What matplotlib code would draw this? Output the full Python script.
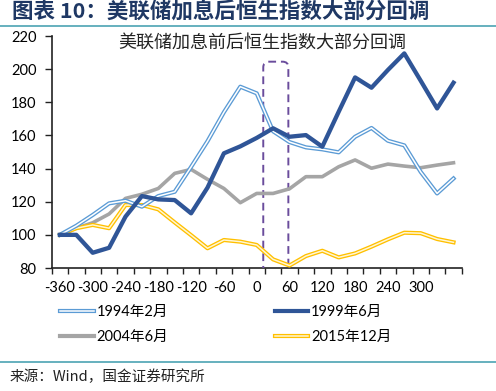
import numpy as np
import matplotlib
matplotlib.use("Agg")
import matplotlib.pyplot as plt
from matplotlib.lines import Line2D
from matplotlib.patches import FancyBboxPatch

plt.rcParams['font.family'] = ['Lato', 'Noto Sans CJK SC', 'DejaVu Sans']

days = [-360, -330, -300, -270, -240, -210, -180, -150, -120, -90, -60, -30, 0,
        30, 60, 90, 120, 150, 180, 210, 240, 270, 300, 330, 360]
tick_labels = ['-360', '', '-300', '', '-240', '', '-180', '', '-120', '', '-60', '', '0',
               '', '60', '', '120', '', '180', '', '240', '', '300', '', '']

s1994 = [100, 105.5, 112, 119, 120.6, 117, 123.4, 126, 141, 156.5, 174, 189.4, 185.4,
         162.5, 156, 152.8, 151.6, 149.8, 159.2, 164.5, 156.8, 154, 138, 125, 134]
s1999 = [100, 100, 89.2, 92.2, 111, 123.4, 121.4, 121, 113, 128.5, 149.2, 153.4, 158.5,
         164.3, 159.2, 160.2, 153.2, 174.3, 195, 188.8, 199.5, 209.5, 193, 176.3, 191.8]
s2004 = [100, 104, 107.3, 112.6, 122, 124.5, 128, 137.1, 139.5, 133.5, 128, 119.4, 125,
         125, 127.8, 135.1, 135.1, 141.1, 145.2, 140.2, 142.7, 141.5, 140.5, 142.1, 143.5]
s2015 = [100, 104, 106, 104, 118, 118, 115.4, 107.5, 99.8, 91.9, 96.9, 95.9, 93.9,
         85.2, 81.5, 87.2, 90.4, 86.4, 88.8, 92.9, 97.3, 101.3, 101, 97.5, 95.5]

names = ['1994年2月', '1999年6月', '2004年6月', '2015年12月']
inner_title = '美联储加息前后恒生指数大部分回调'
header = '图表 10：美联储加息后恒生指数大部分回调'
source = '来源：Wind，国金证券研究所'

W, H = 496, 391
fig = plt.figure(figsize=(W / 100, H / 100), dpi=100)
ax = fig.add_axes([51.7 / W, 1 - 268 / H, (461.7 - 51.7) / W, (268 - 36) / H])

x = np.arange(len(days))
c_lb = '#5B9BD5'
c_db = '#2F5597'
c_gr = '#A5A5A5'
c_ye = '#FFC000'

# gray
l_gr, = ax.plot(x, s2004, color=c_gr, lw=2.6, zorder=3)
# yellow double
l_ye1, = ax.plot(x, s2015, color=c_ye, lw=3.0, zorder=3)
l_ye2, = ax.plot(x, s2015, color='#FFF6D5', lw=1.1, zorder=3.1)
# light blue double
l_lb1, = ax.plot(x, s1994, color=c_lb, lw=3.0, zorder=3.2)
l_lb2, = ax.plot(x, s1994, color='white', lw=1.1, zorder=3.3)
# dark blue
l_db, = ax.plot(x, s1999, color=c_db, lw=3.1, zorder=3.4)

ax.set_xlim(-0.5, len(days) - 0.5)
ax.set_ylim(80, 220)
ax.set_yticks(np.arange(80, 221, 20))
ax.set_xticks(x)
ax.set_xticklabels(tick_labels)
ax.set_xticks(np.arange(-0.5, len(days), 1), minor=True)
ax.tick_params(axis='x', which='major', length=0, pad=9, labelsize=10.5)
ax.tick_params(axis='x', which='minor', length=4, width=1, direction='out', color='#222222')
ax.tick_params(axis='y', length=5, width=1, direction='out', labelsize=10.5, pad=6, color='#222222')
for sp in ['top', 'right']:
    ax.spines[sp].set_visible(False)
for sp in ['left', 'bottom']:
    ax.spines[sp].set_color('#222222')
    ax.spines[sp].set_linewidth(1.2)

# dashed rounded box
x0, x1 = 12.4, 13.93
ylo, yhi = 76, 204.5
box = FancyBboxPatch((x0, ylo), x1 - x0, yhi - ylo,
                     boxstyle='round,pad=0,rounding_size=0.35',
                     mutation_aspect=9.9, fill=False, edgecolor='#6A4C9C',
                     lw=1.4, linestyle=(0, (4, 2.5)), zorder=2.8, transform=ax.transData)
ax.add_patch(box)

ax.text(262 / W, 1 - 44 / H, inner_title, transform=fig.transFigure, ha='center', va='center',
        fontsize=13, family=['Noto Sans CJK SC'], fontweight='light', color='#222222')

# legend
h1994 = (Line2D([], [], color=c_lb, lw=3.0), Line2D([], [], color='white', lw=1.1))
h1999 = Line2D([], [], color=c_db, lw=3.0)
h2004 = Line2D([], [], color=c_gr, lw=3.0)
h2015 = (Line2D([], [], color=c_ye, lw=3.0), Line2D([], [], color='#FFF6D5', lw=1.1))
leg = fig.legend([h1994, h2004, h1999, h2015], [names[0], names[2], names[1], names[3]],
                 ncol=2, loc='upper left', bbox_to_anchor=(60 / W, 1 - 305 / H),
                 frameon=False, fontsize=10.5, handlelength=2.3, handletextpad=0.2,
                 columnspacing=7.3, labelspacing=0.75, borderpad=0, borderaxespad=0)

# header and separators
fig.text(12 / W, 1 - 12 / H, header, ha='left', va='center', fontsize=15.5,
         fontweight='bold', color='#1F3864', family=['Noto Sans CJK SC', 'DejaVu Sans'])
fig.add_artist(Line2D([0, 1], [1 - 26 / H, 1 - 26 / H], color='#4BA3B3', lw=1.2,
                      transform=fig.transFigure))
fig.add_artist(Line2D([0, 1], [1 - 362 / H, 1 - 362 / H], color='#4BA3B3', lw=1.2,
                      transform=fig.transFigure))
fig.text(10 / W, 1 - 377 / H, source, ha='left', va='center', fontsize=10.5,
         color='#222222', family=['Noto Sans CJK SC', 'DejaVu Sans'])

fig.savefig('out.png', dpi=100)
